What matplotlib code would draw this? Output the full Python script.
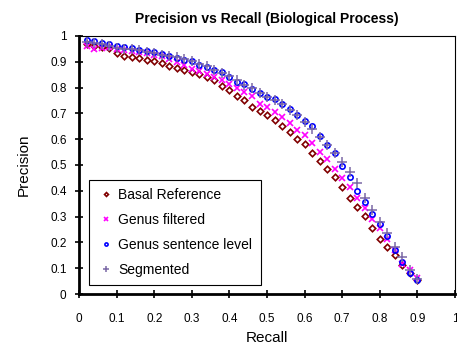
import matplotlib
matplotlib.use("Agg")
import matplotlib.pyplot as plt

plt.rcParams['font.family'] = ['Liberation Sans', 'DejaVu Sans']

# recall values (same for every series)
recall = [0.02, 0.04, 0.06, 0.08, 0.10, 0.12, 0.14, 0.16, 0.18, 0.20,
          0.22, 0.24, 0.26, 0.28, 0.30, 0.32, 0.34, 0.36, 0.38, 0.40,
          0.42, 0.44, 0.46, 0.48, 0.50, 0.52, 0.54, 0.56, 0.58, 0.60,
          0.62, 0.64, 0.66, 0.68, 0.70, 0.72, 0.74, 0.76, 0.78, 0.80,
          0.82, 0.84, 0.86, 0.88, 0.90]

basal = [0.968, 0.961, 0.957, 0.952, 0.933, 0.924, 0.920, 0.915, 0.908, 0.902,
         0.894, 0.885, 0.877, 0.870, 0.859, 0.853, 0.842, 0.828, 0.807, 0.792,
         0.766, 0.751, 0.726, 0.711, 0.694, 0.676, 0.653, 0.628, 0.602, 0.580,
         0.548, 0.517, 0.483, 0.452, 0.413, 0.371, 0.336, 0.301, 0.257, 0.213,
         0.181, 0.151, 0.112, 0.083, 0.054]

genus_filtered = [0.962, 0.951, 0.955, 0.958, 0.950, 0.945, 0.943, 0.938, 0.933, 0.928,
                  0.922, 0.910, 0.900, 0.886, 0.873, 0.864, 0.853, 0.841, 0.830, 0.813,
                  0.797, 0.782, 0.766, 0.738, 0.725, 0.706, 0.686, 0.663, 0.635, 0.615,
                  0.587, 0.552, 0.525, 0.485, 0.450, 0.414, 0.372, 0.332, 0.290, 0.257,
                  0.215, 0.170, 0.118, 0.094, 0.063]

genus_sentence = [0.984, 0.982, 0.974, 0.970, 0.962, 0.956, 0.952, 0.947, 0.941, 0.937,
                  0.930, 0.922, 0.915, 0.907, 0.902, 0.889, 0.880, 0.868, 0.859, 0.842,
                  0.823, 0.813, 0.795, 0.779, 0.765, 0.756, 0.737, 0.716, 0.693, 0.672,
                  0.651, 0.613, 0.578, 0.548, 0.496, 0.452, 0.400, 0.358, 0.310, 0.271,
                  0.224, 0.170, 0.124, 0.083, 0.054]

segmented = [0.976, 0.972, 0.968, 0.962, 0.955, 0.951, 0.948, 0.944, 0.939, 0.934,
             0.927, 0.921, 0.918, 0.911, 0.904, 0.893, 0.882, 0.869, 0.857, 0.843,
             0.828, 0.810, 0.797, 0.780, 0.764, 0.752, 0.736, 0.715, 0.692, 0.666,
             0.638, 0.607, 0.576, 0.548, 0.513, 0.472, 0.429, 0.373, 0.326, 0.280,
             0.235, 0.183, 0.142, 0.093, 0.057]

ticks = [0, 0.1, 0.2, 0.3, 0.4, 0.5, 0.6, 0.7, 0.8, 0.9, 1]
tick_labels = ['0', '0.1', '0.2', '0.3', '0.4', '0.5', '0.6', '0.7', '0.8', '0.9', '1']

fig = plt.figure(figsize=(4.57, 3.47), dpi=100)
ax = fig.add_axes([0.1729, 0.1527, 0.8228, 0.7436])

ax.plot(recall, basal, ls='none', marker='D', ms=3.3, mfc='none', mec='#800000',
        mew=1.2, label='Basal Reference')
ax.plot(recall, genus_filtered, ls='none', marker='x', ms=4.6, mec='#ff00ff',
        mew=1.2, label='Genus filtered')
ax.plot(recall, genus_sentence, ls='none', marker='o', ms=3.8, mfc='none', mec='#0000ff',
        mew=1.2, label='Genus sentence level')
ax.plot(recall, segmented, ls='none', marker='+', ms=6.5, mec='#7b68a6',
        mew=1.1, label='Segmented')

ax.set_xlim(0, 1)
ax.set_ylim(0, 1)
ax.set_xticks(ticks)
ax.set_xticklabels(tick_labels)
ax.set_yticks(ticks)
ax.set_yticklabels(tick_labels)
ax.tick_params(direction='inout', length=6, width=1.2, labelsize=8.5)
ax.tick_params(axis='x', pad=11)
ax.tick_params(axis='y', pad=6)

ax.spines['left'].set_linewidth(2)
ax.spines['bottom'].set_linewidth(2)
ax.spines['top'].set_linewidth(0.8)
ax.spines['right'].set_linewidth(0.8)

ax.set_xlabel('Recall', fontsize=11, labelpad=4)
ax.set_ylabel('Precision', fontsize=11, labelpad=14)
ax.set_title('Precision vs Recall (Biological Process)', fontsize=10, fontweight='bold', pad=9)

leg = ax.legend(loc='lower left', bbox_to_anchor=(0.0266, 0.035), borderaxespad=0,
                fontsize=10, fancybox=False, edgecolor='black', framealpha=1,
                markerscale=0.6, handlelength=1.2, handletextpad=0.3,
                labelspacing=0.78, borderpad=0.6)
leg.get_frame().set_linewidth(0.8)

plt.savefig('out.png', dpi=100)
